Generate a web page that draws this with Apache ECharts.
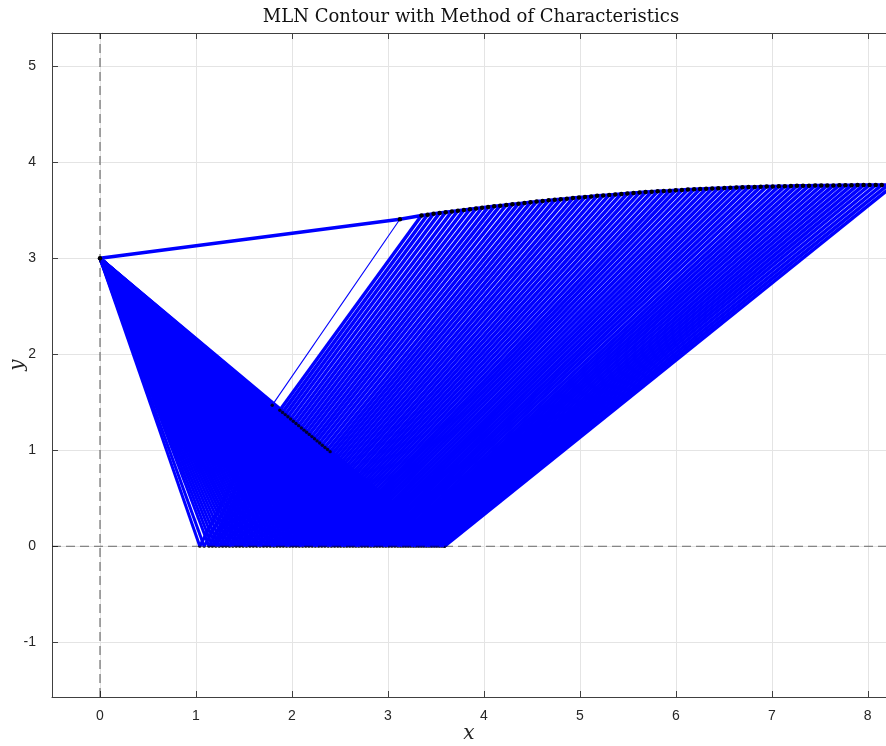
<!DOCTYPE html>
<html>
<head>
<meta charset="utf-8">
<script src="https://cdn.jsdelivr.net/npm/echarts@6/dist/echarts.min.js"></script>
<style>
  html, body { margin: 0; padding: 0; background: #ffffff; }
  #chart { width: 886px; height: 746px; }
</style>
</head>
<body>
<div id="chart"></div>
<script>
// Sharp throat corner of the minimum length nozzle
const corner = [0, 3];

// Centreline points where each C- characteristic from the corner reflects
const axisX = [
  1.04, 1.085, 1.136, 1.171, 1.207, 1.242, 1.278, 1.313, 1.349, 1.384,
  1.420, 1.455, 1.491, 1.526, 1.562, 1.597, 1.633, 1.668, 1.704, 1.739,
  1.775, 1.810, 1.843, 1.877, 1.910, 1.944, 1.977, 2.010, 2.044, 2.077,
  2.111, 2.144, 2.177, 2.211, 2.244, 2.278, 2.311, 2.344, 2.378, 2.411,
  2.445, 2.478, 2.509, 2.541, 2.572, 2.603, 2.635, 2.666, 2.697, 2.728,
  2.760, 2.791, 2.822, 2.854, 2.885, 2.916, 2.948, 2.979, 3.010, 3.041,
  3.073, 3.104, 3.131, 3.158, 3.185, 3.212, 3.239, 3.266, 3.293, 3.320,
  3.347, 3.374, 3.401, 3.428, 3.455, 3.482, 3.509, 3.536, 3.563, 3.590
];

// Points on the last C- line where each reflected C+ leaves the kernel
const kernelX = [
  1.795, 1.874, 1.902, 1.930, 1.958, 1.986, 2.014, 2.042, 2.070, 2.098,
  2.126, 2.153, 2.180, 2.208, 2.235, 2.262, 2.289, 2.316, 2.344, 2.371,
  2.398, 2.423, 2.448, 2.473, 2.498, 2.523, 2.548, 2.573, 2.598, 2.623,
  2.648, 2.672, 2.696, 2.719, 2.743, 2.767, 2.791, 2.815, 2.838, 2.862,
  2.886, 2.908, 2.929, 2.951, 2.972, 2.994, 3.015, 3.037, 3.058, 3.080,
  3.101, 3.121, 3.141, 3.161, 3.181, 3.201, 3.220, 3.240, 3.260, 3.280,
  3.300, 3.316, 3.332, 3.349, 3.365, 3.381, 3.397, 3.413, 3.430, 3.446,
  3.462, 3.476, 3.491, 3.505, 3.519, 3.533, 3.547, 3.562, 3.576, 3.590
];
const kernelY = [
  1.469, 1.417, 1.394, 1.371, 1.348, 1.325, 1.302, 1.279, 1.256, 1.232,
  1.209, 1.187, 1.165, 1.142, 1.119, 1.097, 1.075, 1.052, 1.029, 1.007,
  0.985, 0.964, 0.943, 0.923, 0.902, 0.881, 0.861, 0.840, 0.819, 0.799,
  0.778, 0.758, 0.738, 0.719, 0.700, 0.680, 0.660, 0.640, 0.621, 0.601,
  0.582, 0.563, 0.546, 0.528, 0.510, 0.492, 0.475, 0.457, 0.439, 0.421,
  0.404, 0.387, 0.371, 0.354, 0.338, 0.321, 0.306, 0.289, 0.273, 0.256,
  0.240, 0.226, 0.213, 0.199, 0.186, 0.173, 0.159, 0.146, 0.132, 0.119,
  0.106, 0.094, 0.082, 0.070, 0.059, 0.047, 0.036, 0.023, 0.012, 0.000
];

// Wall contour points reached by each C+ characteristic
const wallX = [
  3.125, 3.350, 3.413, 3.476, 3.539, 3.602, 3.666, 3.729, 3.792, 3.855,
  3.918, 3.981, 4.044, 4.107, 4.170, 4.233, 4.297, 4.360, 4.423, 4.486,
  4.549, 4.612, 4.675, 4.738, 4.801, 4.864, 4.928, 4.991, 5.054, 5.117,
  5.180, 5.243, 5.306, 5.369, 5.432, 5.495, 5.559, 5.622, 5.685, 5.748,
  5.811, 5.874, 5.937, 6.000, 6.063, 6.126, 6.190, 6.253, 6.316, 6.379,
  6.442, 6.505, 6.568, 6.631, 6.694, 6.757, 6.821, 6.884, 6.947, 7.010,
  7.073, 7.136, 7.199, 7.262, 7.325, 7.388, 7.452, 7.515, 7.578, 7.641,
  7.704, 7.767, 7.830, 7.893, 7.956, 8.019, 8.083, 8.146, 8.209, 8.272
];
const wallY = [
  3.406, 3.445, 3.453, 3.462, 3.470, 3.478, 3.486, 3.494, 3.502, 3.509,
  3.517, 3.525, 3.532, 3.540, 3.547, 3.554, 3.561, 3.568, 3.575, 3.582,
  3.589, 3.595, 3.602, 3.608, 3.614, 3.620, 3.626, 3.632, 3.638, 3.643,
  3.649, 3.654, 3.659, 3.664, 3.669, 3.674, 3.679, 3.683, 3.688, 3.692,
  3.696, 3.700, 3.703, 3.707, 3.710, 3.714, 3.717, 3.720, 3.723, 3.726,
  3.729, 3.731, 3.734, 3.736, 3.738, 3.740, 3.742, 3.744, 3.746, 3.747,
  3.749, 3.750, 3.751, 3.753, 3.754, 3.755, 3.756, 3.757, 3.758, 3.758,
  3.759, 3.760, 3.760, 3.761, 3.761, 3.762, 3.762, 3.762, 3.762, 3.762
];

// Axis window
const xRange = [-0.5, 8.19];
const yRange = [-1.57, 5.345];

// Kernel-exit grid points that stay visible above the net
const shownKernelPoints = 21;

const BLUE = '#0000ff';
const AXIS = '#404040';
const TEXT = '#262626';

// Segments of the characteristic net; the first characteristic is drawn thin
const fanSegments = axisX.map(a => ({ coords: [corner, [a, 0]] }));
const kernelSegments = axisX.map((a, i) => ({ coords: [[a, 0], [kernelX[i], kernelY[i]]] }));
const waveSegments = kernelX.map((k, i) => {
  const seg = { coords: [[k, kernelY[i]], [wallX[i], wallY[i]]] };
  if (i === 0) seg.lineStyle = { width: 1.1 };
  return seg;
});
const wallPoints = [corner].concat(wallX.map((x, i) => [x, wallY[i]]));
const axisPoints = axisX.map(a => [a, 0]);
const kernelPoints = kernelX.map((k, i) => [k, kernelY[i]]);

const chart = echarts.init(document.getElementById('chart'), null, { renderer: 'canvas' });

const labelFont = { color: TEXT, fontFamily: 'Liberation Sans, Arial, sans-serif', fontSize: 14 };

function segSeries(data, width, z) {
  return {
    type: 'lines', coordinateSystem: 'cartesian2d', xAxisIndex: 0, yAxisIndex: 0,
    data: data, silent: true, z: z, clip: true,
    lineStyle: { color: BLUE, width: width, opacity: 1, curveness: 0 }
  };
}

chart.setOption({
  animation: false,
  backgroundColor: '#ffffff',
  grid: { left: 52, right: 0, top: 33, bottom: 49, containLabel: false, outerBoundsMode: 'none' },
  graphic: [{
    type: 'text', x: 471, y: 17, z: 100,
    style: {
      text: 'MLN Contour with Method of Characteristics',
      x: 0, y: 0, align: 'center', verticalAlign: 'middle',
      fill: '#111111', font: '18px "DejaVu Serif", "Liberation Serif", serif'
    }
  }],
  xAxis: [{
    type: 'value', min: xRange[0], max: xRange[1], splitNumber: 8,
    name: 'x', nameLocation: 'middle', nameGap: 27, nameMoveOverlap: false,
    nameTextStyle: { color: TEXT, fontFamily: 'DejaVu Serif, Liberation Serif, serif', fontStyle: 'italic', fontSize: 20 },
    axisLine: { show: true, onZero: false, lineStyle: { color: AXIS, width: 1 } },
    axisTick: { show: true, inside: true, length: 6, lineStyle: { color: AXIS } },
    axisLabel: Object.assign({ margin: 12, showMinLabel: false, showMaxLabel: false }, labelFont),
    splitLine: { show: true, lineStyle: { color: '#e4e4e4', width: 1 } }
  }, {
    type: 'value', position: 'top', min: xRange[0], max: xRange[1], splitNumber: 8,
    axisLine: { show: true, onZero: false, lineStyle: { color: AXIS, width: 1 } },
    axisTick: { show: true, inside: true, length: 6, lineStyle: { color: AXIS } },
    axisLabel: { show: false }, splitLine: { show: false }
  }],
  yAxis: [{
    type: 'value', min: yRange[0], max: yRange[1], splitNumber: 7,
    name: 'y', nameLocation: 'middle', nameGap: 24, nameRotate: 90, nameMoveOverlap: false,
    nameTextStyle: { color: TEXT, fontFamily: 'DejaVu Serif, Liberation Serif, serif', fontStyle: 'italic', fontSize: 20 },
    axisLine: { show: true, onZero: false, lineStyle: { color: AXIS, width: 1 } },
    axisTick: { show: true, inside: true, length: 6, lineStyle: { color: AXIS } },
    axisLabel: Object.assign({ margin: 16, showMinLabel: false, showMaxLabel: false }, labelFont),
    splitLine: { show: true, lineStyle: { color: '#e4e4e4', width: 1 } }
  }],
  series: [
    // grid points on the centreline and kernel edge (mostly hidden under the net)
    { type: 'scatter', data: axisPoints.concat(kernelPoints), symbol: 'circle', symbolSize: 3.5, z: 1, silent: true,
      itemStyle: { color: '#000000' } },
    segSeries(fanSegments, 3, 2),
    segSeries(kernelSegments, 3.2, 2),
    { type: 'scatter', data: kernelPoints.slice(0, shownKernelPoints), symbol: 'circle', symbolSize: 3.4, z: 5, silent: true,
      itemStyle: { color: '#000000' } },
    segSeries(waveSegments, 3.5, 4),
    // nozzle wall
    { type: 'line', data: wallPoints, z: 5, silent: true, showAllSymbol: true,
      symbol: 'circle', symbolSize: 4.5,
      itemStyle: { color: '#000000', borderWidth: 0 },
      lineStyle: { color: BLUE, width: 3.5 } },
    // reference lines x = 0 and y = 0
    { type: 'line', data: [[xRange[0], 0], [xRange[1], 0]], z: 6, silent: true, symbol: 'none',
      lineStyle: { color: 'rgba(0,0,0,0.55)', width: 1.2, type: [9, 5] } },
    { type: 'line', data: [[0, yRange[0]], [0, yRange[1]]], z: 6, silent: true, symbol: 'none',
      lineStyle: { color: 'rgba(0,0,0,0.65)', width: 1, type: [9, 5] } }
  ]
});
</script>
</body>
</html>
